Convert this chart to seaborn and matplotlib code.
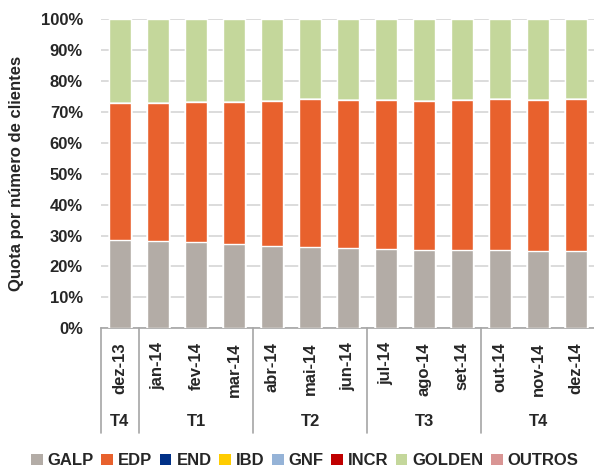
import numpy as np
import pandas as pd
import matplotlib
matplotlib.use('Agg')
import matplotlib.pyplot as plt
from matplotlib.lines import Line2D
from matplotlib.patches import Patch
import seaborn as sns

####### data #######
months = ['dez-13', 'jan-14', 'fev-14', 'mar-14', 'abr-14', 'mai-14', 'jun-14',
          'jul-14', 'ago-14', 'set-14', 'out-14', 'nov-14', 'dez-14']
quarters = ['T4', 'T1', 'T2', 'T3', 'T4']
quarter_sizes = [1, 3, 3, 3, 3]

galp = [28.5, 28.2, 27.9, 27.3, 26.6, 26.3, 25.9, 25.5, 25.3, 25.4, 25.3, 25.0, 25.0]
edp = [44.3, 44.7, 45.2, 46.0, 46.8, 47.9, 48.0, 48.2, 48.2, 48.3, 48.7, 48.9, 49.2]
end = [0.0] * 13
ibd = [0.0] * 13
gnf = [0.0] * 13
incr = [0.0] * 13
outros = [0.0] * 13
# GOLDEN is the rest up to 100%
golden = list(100 - np.array(galp) - np.array(edp) - np.array(end) - np.array(ibd)
              - np.array(gnf) - np.array(incr) - np.array(outros))

series = ['GALP', 'EDP', 'END', 'IBD', 'GNF', 'INCR', 'GOLDEN', 'OUTROS']
values = [galp, edp, end, ibd, gnf, incr, golden, outros]
colors = ['#B3ACA6', '#E8612D', '#003087', '#FFCC00', '#95B3D7', '#C00000', '#C4D79B', '#D99594']

####### plot #######
sns.set_style('white')
plt.rcParams['font.family'] = ['Liberation Sans', 'DejaVu Sans']
plt.rcParams['font.weight'] = 'bold'

fig = plt.figure(figsize=(5.94, 4.68), dpi=100)
ax = fig.add_axes([0.170, 0.2985, 0.832, 0.6609])

# stacked bars: draw cumulative totals from top layer down
cum = np.cumsum(np.array(values), axis=0)
for i in range(len(series) - 1, -1, -1):
    df = pd.DataFrame({'month': months, 'value': cum[i]})
    sns.barplot(data=df, x='month', y='value', color=colors[i], saturation=1,
                width=0.57, ax=ax, zorder=3)

ax.set_ylim(0, 100)
ax.set_xlim(-0.5, len(months) - 0.5)
ax.set_yticks(range(0, 101, 10))
ax.set_yticklabels([f'{v}%' for v in range(0, 101, 10)], fontsize=12, fontweight='bold')
ax.yaxis.grid(True, color='#D9D9D9', linewidth=1.3, zorder=0)
ax.set_axisbelow(True)
ax.tick_params(axis='y', length=0, pad=13)
ax.tick_params(axis='x', length=0, pad=10)
ax.set_xticks(range(len(months)))
ax.set_xticklabels(months, rotation=90, fontsize=12, fontweight='bold', va='top')
ax.set_xlabel('')
ax.set_ylabel('Quota por número de clientes', fontsize=12, fontweight='bold', labelpad=12)

for s in ['top', 'right', 'left']:
    ax.spines[s].set_visible(False)
ax.spines['bottom'].set_color('#A6A6A6')
ax.spines['bottom'].set_linewidth(1.2)

# quarter separators and labels
start = -0.5
bounds = [start]
for n in quarter_sizes:
    bounds.append(bounds[-1] + n)
trans = ax.get_xaxis_transform()
for b in bounds[:-1]:
    ax.add_line(Line2D([b, b], [0, -0.339], transform=trans, color='#A6A6A6',
                       linewidth=1.2, clip_on=False))
for q, a, b in zip(quarters, bounds[:-1], bounds[1:]):
    ax.text((a + b) / 2, -0.302, q, transform=trans, ha='center', va='center',
            fontsize=12, fontweight='bold')

# legend
handles = [Patch(facecolor=c, edgecolor='none') for c in colors]
fig.legend(handles, series, loc='center', bbox_to_anchor=(0.513, 0.015), ncol=8,
           frameon=False, prop={'size': 12, 'weight': 'bold'},
           handlelength=0.7, handleheight=0.7, handletextpad=0.3,
           columnspacing=0.45, borderaxespad=0, borderpad=0)

fig.savefig('out.png', dpi=100)
